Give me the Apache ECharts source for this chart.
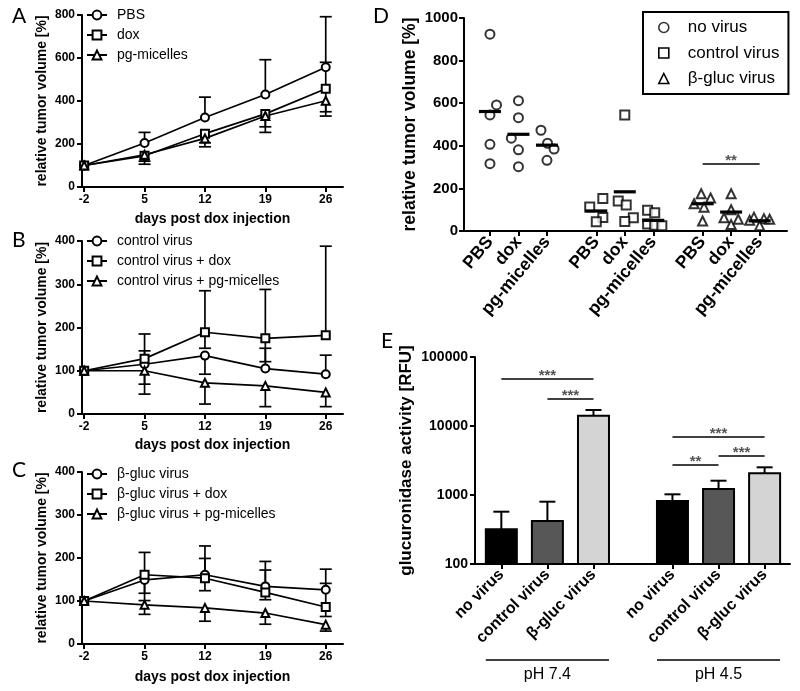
<!DOCTYPE html>
<html><head><meta charset="utf-8">
<script src="https://cdn.jsdelivr.net/npm/echarts@6/dist/echarts.min.js"></script>
<style>html,body{margin:0;padding:0;background:#fff}#c{width:800px;height:691px}</style>
</head><body><div id="c"></div>
<script>
// ---------- data ----------
const days = [-2, 5, 12, 19, 26];

const aNames = ['PBS', 'dox', 'pg-micelles'];
const aMean = [[100,205,323,430,557],[100,145,248,340,457],[100,150,226,330,401]];
const aHigh = [[null,254,418,592,792],[null,null,null,null,580],[null,null,null,null,null]];
const aLow  = [[null,null,null,null,null],[null,106,206,254,330],[null,120,187,280,350]];

const bNames = ['control virus','control virus + dox','control virus + pg-micelles'];
const bMean = [[100,115,135,105,92],[100,128,189,175,182],[100,100,72,65,50]];
const bHigh = [[null,146,null,152,136],[null,185,285,288,388],[null,null,null,null,null]];
const bLow  = [[null,69,92,null,null],[null,null,152,121,null],[null,46,23,17,17]];

const cNames = ['β-gluc virus','β-gluc virus + dox','β-gluc virus + pg-micelles'];
const cMean = [[100,149,161,134,126],[100,161,153,120,86],[100,91,84,72,45]];
const cHigh = [[null,null,228,192,174],[null,213,199,172,141],[null,null,null,null,null]];
const cLow  = [[null,101,null,null,null],[null,118,124,103,64],[null,69,53,46,30]];

const dTreat = ['PBS','dox','pg-micelles'];
const dVirus = ['no virus','control virus','β-gluc virus'];
const dNoVirus = [[924,592,545,407,316],[612,532,436,381,302],[473,412,385,332]];
const dControl = [[152,113,63,43],[545,141,122,62,45],[98,86,33,27,25]];
const dBgluc   = [[175,155,128,112,47],[175,100,62,55,30],[65,58,55,50,25]];
const dMeans   = [[561,454,403],[94,184,50],[128,89,48]];
const dSig = [[2,0,2,315,'**']];

const eCats = ['no virus','control virus','β-gluc virus'];
const ePH = ['pH 7.4','pH 4.5'];
const eMean = [[318,420,14100],[818,1222,2062]];
const eErr  = [[573,800,17060],[1023,1611,2519]];
const eSig = [[0,0,0,2,48000,'***'],[0,1,0,2,24600,'***'],[1,0,1,2,6920,'***'],[1,0,1,1,2720,'**'],[1,1,1,2,3675,'***']];

// ---------- layout helpers (not data) ----------
const dSpread = [
 [[0,0.23,0,0,0],[0,0,-0.25,0,0],[-0.21,0.02,0.25,0]],
 [[0.23,-0.23,0.23,0],[0,-0.23,0.05,0.3,0],[-0.2,0.05,-0.2,0.05,0.3]],
 [[-0.05,0.28,-0.3,0.05,0],[0,0,-0.25,0.25,0],[-0.2,0.15,0.35,-0.35,0]]
];
const dPos = (g,t) => g*3.73 + t;
const ePos = (g,c) => g*3.64 + c*0.98;
const dX = [], dLab = [];
dVirus.forEach((v,g)=>dTreat.forEach((t,i)=>{dX.push(dPos(g,i)); dLab.push(t);}));
const eX = [], eLab = [];
ePH.forEach((p,g)=>eCats.forEach((c,i)=>{eX.push(ePos(g,i)); eLab.push(c);}));
const lookup = (xs, labs) => v => { for (let i=0;i<xs.length;i++) if (Math.abs(xs[i]-v)<0.01) return labs[i]; return ''; };
const plain = v => String(Math.round(v));

const FF = '"Liberation Sans", Arial, sans-serif';
const K = '#000';
const syms = ['emptyCircle','emptyRect','emptyTriangle'];
const solidSyms = ['circle','rect','triangle'];
const eColors = ['#000000','#575757','#d4d4d4'];

const grids = [
  {left:82, top:15, width:261, height:172},
  {left:82, top:241, width:261, height:173},
  {left:82, top:472, width:261, height:172},
  {left:464, top:18, width:323, height:213},
  {left:475, top:357, width:315, height:207}
].map(g=>Object.assign({containLabel:false, outerBoundsMode:'none'}, g));

const axisLine = {show:true, onZero:false, lineStyle:{color:K, width:2}};
const tickStyle = {color:K, width:2};

function dayAxis(gi, gap){
  return {type:'value', gridIndex:gi, min:-2.25, max:28,
    name:'days post dox injection', nameLocation:'middle', nameGap:gap,
    nameTextStyle:{fontFamily:FF, fontWeight:'bold', fontSize:14, color:K},
    axisLine, axisTick:{show:true, customValues:days, length:5, lineStyle:tickStyle},
    axisLabel:{customValues:days, fontFamily:FF, fontWeight:'bold', fontSize:12, color:K, margin:7},
    splitLine:{show:false}};
}
function volAxis(gi, max){
  return {type:'value', gridIndex:gi, min:0, max, interval:max/4,
    name:'relative tumor volume [%]', nameLocation:'middle', nameGap:33,
    nameTextStyle:{fontFamily:FF, fontWeight:'bold', fontSize:14, color:K},
    axisLine, axisTick:{show:true, length:5, lineStyle:tickStyle},
    axisLabel:{formatter:plain, fontFamily:FF, fontWeight:'bold', fontSize:12, color:K, margin:7},
    splitLine:{show:false}};
}

const series = [];
const legends = [];
const panels = [[aNames,aMean,aHigh,aLow,8],[bNames,bMean,bHigh,bLow,234],[cNames,cMean,cHigh,cLow,467]];
panels.forEach(([names, mean, hi, lo, ltop], gi) => {
  names.forEach((nm,k) => {
    series.push({type:'custom', xAxisIndex:gi, yAxisIndex:gi, z:2, silent:true, clip:false,
      data: days.map((d,i)=>[d, mean[k][i]]),
      renderItem(params, api){
        const i = params.dataIndex;
        const x = api.value(0), v = api.value(1);
        const p = api.coord([x, v]);
        const ch = [];
        const st = {stroke:K, lineWidth:1.7};
        [hi[k][i], lo[k][i]].forEach(e => {
          if (e == null) return;
          const q = api.coord([x, e]);
          ch.push({type:'line', shape:{x1:p[0], y1:p[1], x2:q[0], y2:q[1]}, style:st});
          ch.push({type:'line', shape:{x1:q[0]-6, y1:q[1], x2:q[0]+6, y2:q[1]}, style:st});
        });
        return {type:'group', children:ch};
      }});
    series.push({type:'line', name:nm, xAxisIndex:gi, yAxisIndex:gi, z:3,
      data: days.map((d,i)=>[d, mean[k][i]]),
      symbol:syms[k], symbolSize:8,
      lineStyle:{color:K, width:1.7}, itemStyle:{color:K, borderWidth:1.3}});
  });
  legends.push({orient:'vertical', left:86, top:ltop, padding:0, itemWidth:20, itemHeight:11, itemGap:6,
    selectedMode:false, data:names,
    textStyle:{fontFamily:FF, fontSize:14, color:K, padding:[0,0,0,5]}});
});

// Panel D
const dSets = [dNoVirus, dControl, dBgluc];
dVirus.forEach((nm,g) => {
  const pts = [];
  dTreat.forEach((t,ti) => dSets[g][ti].forEach((v,j) => pts.push([dPos(g,ti) + dSpread[g][ti][j], v])));
  series.push({type:'scatter', name:nm, xAxisIndex:3, yAxisIndex:3, z:3,
    data:pts, symbol:syms[g], symbolSize:9, itemStyle:{color:K, borderWidth:1.6}});
});
const meanPts = [];
dVirus.forEach((nm,g)=>dTreat.forEach((t,ti)=>meanPts.push([dPos(g,ti), dMeans[g][ti]])));
series.push({type:'custom', xAxisIndex:3, yAxisIndex:3, z:4, silent:true, clip:false, data:meanPts,
  renderItem(params, api){
    const p = api.coord([api.value(0), api.value(1)]);
    return {type:'line', shape:{x1:p[0]-11, y1:p[1], x2:p[0]+11, y2:p[1]}, style:{stroke:K, lineWidth:3.2}};
  }});
series.push({type:'custom', xAxisIndex:3, yAxisIndex:3, z:4, silent:true, clip:false,
  data: dSig.map(s=>[dPos(s[0],s[1]), s[3]]),
  renderItem(params, api){
    const s = dSig[params.dataIndex];
    const p1 = api.coord([dPos(s[0],s[1]), s[3]]), p2 = api.coord([dPos(s[0],s[2]), s[3]]);
    return {type:'group', children:[
      {type:'line', shape:{x1:p1[0], y1:p1[1], x2:p2[0], y2:p2[1]}, style:{stroke:K, lineWidth:1.5}},
      {type:'text', x:(p1[0]+p2[0])/2, y:p1[1]-3, style:{text:s[4], fill:'#555', font:'bold 15px '+FF, align:'center', verticalAlign:'middle'}}
    ]};
  }});
legends.push({orient:'vertical', left:643, top:12, padding:[7,9,7,15], itemWidth:10, itemHeight:10, itemGap:8.5,
  selectedMode:false,
  data:dVirus.map((n,g)=>({name:n, icon:solidSyms[g], itemStyle:{color:'#fff', borderColor:K, borderWidth:1.6}})),
  borderColor:K, borderWidth:2, backgroundColor:'#fff',
  textStyle:{fontFamily:FF, fontSize:17, color:K, padding:[0,0,0,14]}});

// Panel E
const barPts = [];
ePH.forEach((p,g)=>eCats.forEach((c,i)=>barPts.push([ePos(g,i), eMean[g][i]])));
series.push({type:'custom', xAxisIndex:4, yAxisIndex:4, z:3, silent:true, clip:false, data:barPts,
  renderItem(params, api){
    const i = params.dataIndex, g = Math.floor(i/3), c = i%3;
    const x = api.value(0), v = api.value(1);
    const top = api.coord([x, v]), base = api.coord([x, 100]), err = api.coord([x, eErr[g][c]]);
    const w = 31;
    return {type:'group', children:[
      {type:'line', shape:{x1:top[0], y1:top[1], x2:err[0], y2:err[1]}, style:{stroke:K, lineWidth:2}},
      {type:'line', shape:{x1:err[0]-8, y1:err[1], x2:err[0]+8, y2:err[1]}, style:{stroke:K, lineWidth:2}},
      {type:'rect', shape:{x:top[0]-w/2, y:top[1], width:w, height:base[1]-top[1]}, style:{fill:eColors[c], stroke:K, lineWidth:2}}
    ]};
  }});
series.push({type:'custom', xAxisIndex:4, yAxisIndex:4, z:4, silent:true, clip:false,
  data: eSig.map(s=>[ePos(s[0],s[1]), s[4]]),
  renderItem(params, api){
    const s = eSig[params.dataIndex];
    const p1 = api.coord([ePos(s[0],s[1]), s[4]]), p2 = api.coord([ePos(s[2],s[3]), s[4]]);
    return {type:'group', children:[
      {type:'line', shape:{x1:p1[0], y1:p1[1], x2:p2[0], y2:p2[1]}, style:{stroke:K, lineWidth:1.5}},
      {type:'text', x:(p1[0]+p2[0])/2, y:p1[1]-3, style:{text:s[5], fill:'#555', font:'bold 15px '+FF, align:'center', verticalAlign:'middle'}}
    ]};
  }});
series.push({type:'custom', xAxisIndex:4, yAxisIndex:4, z:4, silent:true, clip:false,
  data: ePH.map((p,g)=>[ePos(g,0), 100]),
  renderItem(params, api){
    const g = params.dataIndex;
    const p1 = api.coord([ePos(g,0), 100]), p2 = api.coord([ePos(g,2), 100]);
    const y = p1[1] + 96;
    return {type:'group', children:[
      {type:'line', shape:{x1:p1[0]-15.5, y1:y, x2:p2[0]+15.5, y2:y}, style:{stroke:K, lineWidth:1.5}},
      {type:'text', x:(p1[0]+p2[0])/2, y:y+15, style:{text:ePH[g], fill:K, font:'16px '+FF, align:'center', verticalAlign:'middle'}}
    ]};
  }});

const option = {
  animation:false,
  backgroundColor:'#fff',
  grid: grids,
  legend: legends,
  xAxis: [dayAxis(0,25), dayAxis(1,24), dayAxis(2,26),
    {type:'value', gridIndex:3, min:-0.91, max:10.42, axisLine,
      axisTick:{show:true, customValues:dX, length:5, lineStyle:tickStyle},
      axisLabel:{customValues:dX, formatter:lookup(dX,dLab), rotate:50, fontFamily:FF, fontWeight:'bold', fontSize:17.5, color:K, margin:8},
      splitLine:{show:false}},
    {type:'value', gridIndex:4, min:-0.56, max:6.14, axisLine,
      axisTick:{show:true, customValues:eX, length:5, lineStyle:tickStyle},
      axisLabel:{customValues:eX, formatter:lookup(eX,eLab), rotate:45, fontFamily:FF, fontWeight:'bold', fontSize:16, color:K, margin:8},
      splitLine:{show:false}}
  ],
  yAxis: [volAxis(0,800), volAxis(1,400), volAxis(2,400),
    {type:'value', gridIndex:3, min:0, max:1000, interval:200,
      name:'relative tumor volume [%]', nameLocation:'middle', nameGap:45,
      nameTextStyle:{fontFamily:FF, fontWeight:'bold', fontSize:17.5, color:K},
      axisLine, axisTick:{show:true, length:5, lineStyle:tickStyle},
      axisLabel:{formatter:plain, fontFamily:FF, fontWeight:'bold', fontSize:15, color:K, margin:6},
      splitLine:{show:false}},
    {type:'log', logBase:10, gridIndex:4, min:100, max:100000,
      name:'glucuronidase activity [RFU]', nameLocation:'middle', nameGap:60,
      nameTextStyle:{fontFamily:FF, fontWeight:'bold', fontSize:17, color:K},
      axisLine, axisTick:{show:true, length:5, lineStyle:tickStyle},
      axisLabel:{formatter:plain, fontFamily:FF, fontWeight:'bold', fontSize:14, color:K, margin:7},
      minorTick:{show:false}, splitLine:{show:false}}
  ],
  graphic: [
    ['A',12,16],['B',12,240],['C',12,470],['D',373,16],['E',381,341]
  ].map(([t,x,y])=>({type:'text', x, y, style:{text:t, font:'21px Lato, "Liberation Sans", sans-serif', fill:K, verticalAlign:'middle'}})),
  series
};
const chart = echarts.init(document.getElementById('c'));
chart.setOption(option);
</script></body></html>
